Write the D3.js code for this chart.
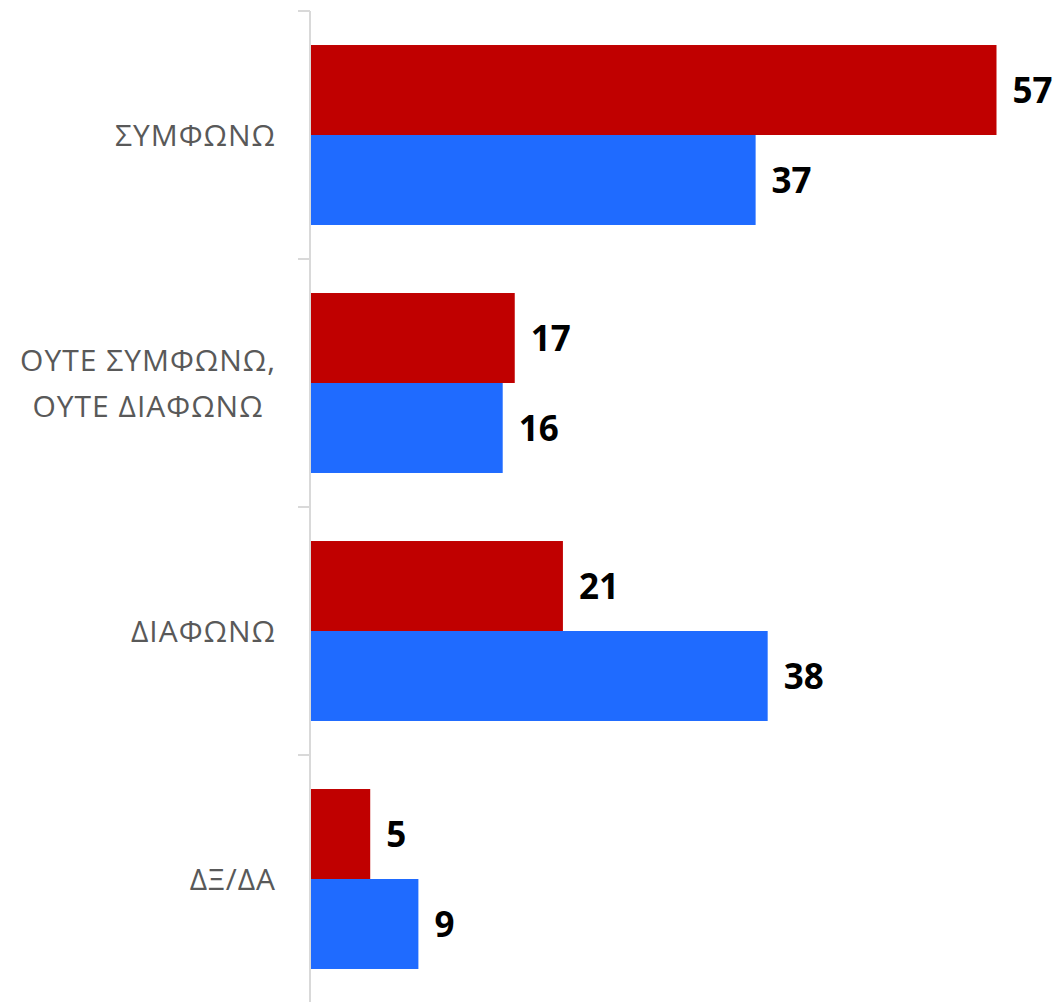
<!DOCTYPE html>
<html>
<head>
<meta charset="utf-8">
<script src="https://cdn.jsdelivr.net/npm/d3@7"></script>
<style>
  body { margin: 0; background: #fff; }
  text { font-family: "Open Sans", sans-serif; }
</style>
</head>
<body>
<svg id="chart"></svg>
<script>
var width = 1058;
var height = 1002;

// Data
var categories = [["ΣΥΜΦΩΝΩ"], ["ΟΥΤΕ ΣΥΜΦΩΝΩ,", "ΟΥΤΕ ΔΙΑΦΩΝΩ"], ["ΔΙΑΦΩΝΩ"], ["ΔΞ/ΔΑ"]];
var seriesNames = ["a", "b"];
var redValues = [57, 17, 21, 5];
var blueValues = [37, 16, 38, 9];
var colors = ["#C00000", "#1F6BFF"];

var x0 = 310; // axis position
var y_top = 11;
var y_bot = 1003;

var svg = d3.select("#chart").attr("width", width).attr("height", height);

var x = d3.scaleLinear().domain([0, 57]).range([x0, 996.5]);
var y = d3.scaleBand().domain(d3.range(categories.length)).range([y_top, y_bot]).paddingInner(0).paddingOuter(0);
var ySub = d3.scaleBand().domain(seriesNames).range([0, y.bandwidth()]).paddingOuter(0.378);

// bars
var rows = svg.selectAll("g.row").data(categories).enter().append("g")
  .attr("class", "row")
  .attr("transform", function(d, i) { return "translate(0," + y(i) + ")"; });

rows.each(function(d, i) {
  var g = d3.select(this);
  var vals = [redValues[i], blueValues[i]];
  vals.forEach(function(v, s) {
    g.append("rect")
      .attr("x", x(0) + 1)
      .attr("y", ySub(seriesNames[s]))
      .attr("width", x(v) - x(0) - 1)
      .attr("height", ySub.bandwidth())
      .attr("fill", colors[s]);
    g.append("text")
      .attr("x", x(v) + 16)
      .attr("y", ySub(seriesNames[s]) + ySub.bandwidth() / 2)
      .attr("dy", "0.36em")
      .attr("font-size", 35)
      .attr("font-weight", "bold")
      .attr("fill", "#000")
      .text(v);
  });
});

// axis line and ticks
var axis = svg.append("g").attr("stroke", "#d9d9d9").attr("stroke-width", 2);
axis.append("line").attr("x1", x0).attr("x2", x0).attr("y1", y_top).attr("y2", y_bot);
d3.range(categories.length + 1).forEach(function(i) {
  var yy = i < categories.length ? y(i) : y_bot;
  axis.append("line").attr("x1", x0 - 12).attr("x2", x0).attr("y1", yy).attr("y2", yy);
});

// category labels
var labelRight = 276;
var lineH = 46;
rows.each(function(d, i) {
  var g = d3.select(this);
  var lab = g.append("text")
    .attr("font-size", 30)
    .attr("letter-spacing", 1)
    .attr("fill", "#595959")
    .attr("text-anchor", "middle");
  var n = d.length;
  var spans = d.map(function(line, k) {
    return lab.append("tspan")
      .attr("y", y.bandwidth() / 2 + (k - (n - 1) / 2) * lineH)
      .attr("dy", "0.36em")
      .text(line);
  });
  var w = d3.max(spans, function(s) { return s.node().getComputedTextLength(); });
  spans.forEach(function(s) { s.attr("x", labelRight - w / 2); });
});
</script>
</body>
</html>
